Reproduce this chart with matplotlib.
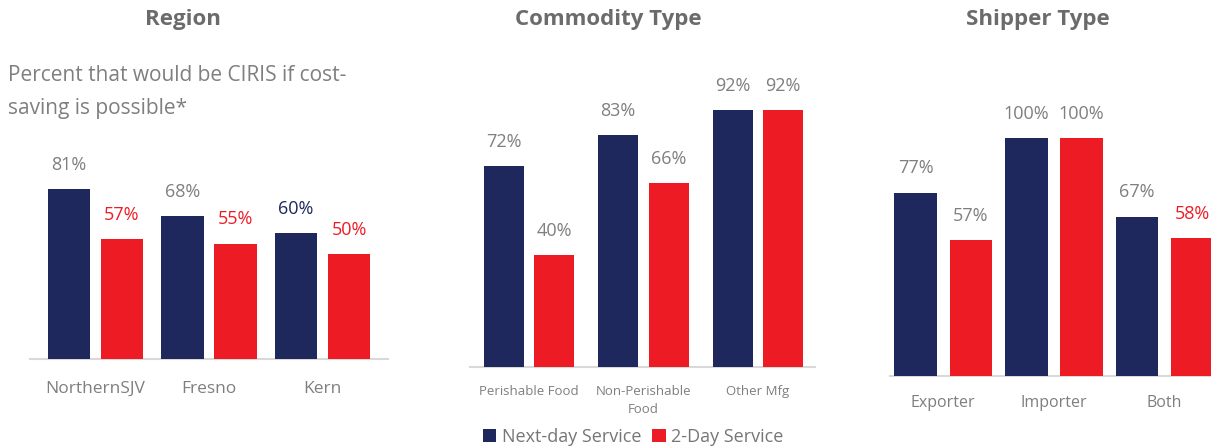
import matplotlib
matplotlib.use("Agg")
import matplotlib.pyplot as plt
from matplotlib.patches import Patch
import numpy as np

# ---------------- data ----------------
region_cats = ["NorthernSJV", "Fresno", "Kern"]
region_next = [81, 68, 60]
region_two = [57, 55, 50]

commodity_cats = ["Perishable Food", "Non-Perishable\nFood", "Other Mfg"]
commodity_next = [72, 83, 92]
commodity_two = [40, 66, 92]

shipper_cats = ["Exporter", "Importer", "Both"]
shipper_next = [77, 100, 67]
shipper_two = [57, 100, 58]

series_names = ["Next-day Service", "2-Day Service"]

# ---------------- style ----------------
NAVY = "#1F285C"
RED = "#ED1C24"
GRAY = "#7F7F7F"
TITLE_GRAY = "#6B6B6B"
FONT = "Open Sans"

W, H = 1211, 447
fig = plt.figure(figsize=(W / 100, H / 100), dpi=100)

def px_axes(left, right, base, top):
    return fig.add_axes([left / W, (H - base) / H, (right - left) / W, (base - top) / H])

panels = [
    dict(cats=region_cats, a=region_next, b=region_two, left=30, right=388, base=359, full=210,
         xlim=(-0.575, 2.575), w=0.375, off=0.233,
         ca=[GRAY, GRAY, NAVY], cb=[RED, RED, RED], cfs=12.5, pad=16, title="Region", tx=183),
    dict(cats=commodity_cats, a=commodity_next, b=commodity_two, left=470, right=815, base=367, full=279,
         xlim=(-0.515, 2.5), w=0.35, off=0.22,
         ca=[GRAY] * 3, cb=[GRAY] * 3, cfs=9.5, pad=13, title="Commodity Type", tx=608),
    dict(cats=shipper_cats, a=shipper_next, b=shipper_two, left=890, right=1220, base=376, full=238,
         xlim=(-0.48, 2.5), w=0.385, off=0.25,
         ca=[GRAY] * 3, cb=[GRAY, GRAY, RED], cfs=11.5, pad=14, title="Shipper Type", tx=1038),
]

for p in panels:
    ax = px_axes(p["left"], p["right"], p["base"], p["base"] - p["full"])
    x = np.arange(len(p["cats"]))
    b1 = ax.bar(x - p["off"], p["a"], p["w"], color=NAVY, zorder=3)
    b2 = ax.bar(x + p["off"], p["b"], p["w"], color=RED, zorder=3)
    for bars, vals, cols in ((b1, p["a"], p["ca"]), (b2, p["b"], p["cb"])):
        for r, v, c in zip(bars, vals, cols):
            ax.annotate(f"{v}%", (r.get_x() + r.get_width() / 2, v), xytext=(0, 17.5),
                        textcoords="offset points", ha="center", va="center",
                        fontsize=13, color=c, family=FONT, annotation_clip=False)
    ax.set_xlim(*p["xlim"])
    ax.set_ylim(0, 100)
    ax.set_yticks([])
    ax.set_xticks(x)
    ax.set_xticklabels(p["cats"], fontsize=p["cfs"], color=GRAY, family=FONT, linespacing=1.5)
    ax.tick_params(axis="x", length=0, pad=p["pad"])
    for s in ("top", "right", "left"):
        ax.spines[s].set_visible(False)
    ax.spines["bottom"].set_color("#D9D9D9")
    ax.spines["bottom"].set_linewidth(1.5)
    ax.patch.set_alpha(0)
    fig.text(p["tx"] / W, 1 - 20 / H, p["title"], ha="center", va="center",
             fontsize=16, fontweight="bold", color=TITLE_GRAY, family=FONT)

fig.text(8 / W, 1 - 92 / H, "Percent that would be CIRIS if cost-\nsaving is possible*",
         ha="left", va="center", fontsize=15, color=GRAY, family=FONT, linespacing=1.7)

handles = [Patch(facecolor=NAVY), Patch(facecolor=RED)]
fig.legend(handles, series_names, loc="center", bbox_to_anchor=(633 / W, 1 - 437 / H),
           ncol=2, frameon=False, handlelength=0.75, handleheight=0.75, handletextpad=0.3,
           columnspacing=0.6, prop={"family": FONT, "size": 13}, labelcolor="#767676")

fig.savefig("out.png", dpi=100)
